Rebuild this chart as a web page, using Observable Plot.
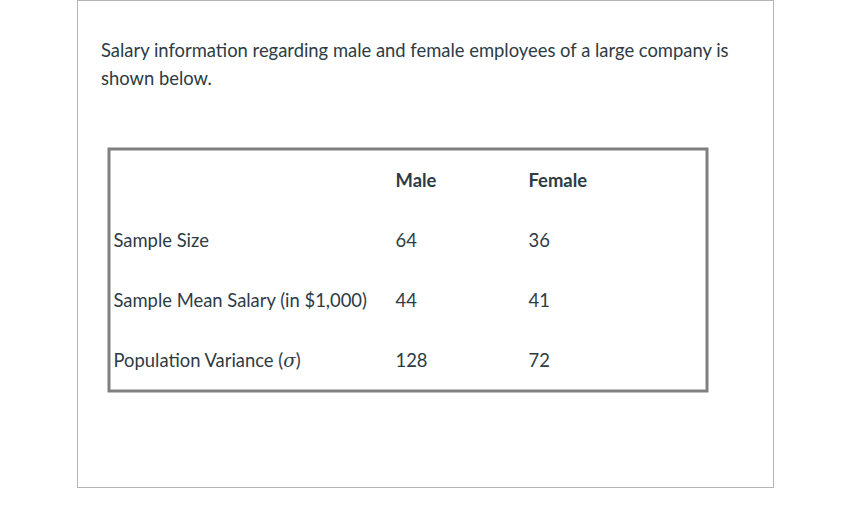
<!DOCTYPE html>
<html>
<head>
<meta charset="utf-8">
<script src="https://cdn.jsdelivr.net/npm/d3@7"></script>
<script src="https://cdn.jsdelivr.net/npm/@observablehq/plot@0.6"></script>
<style>
  html, body { margin: 0; padding: 0; background: #fff; }
  body { width: 864px; height: 517px; position: relative; overflow: hidden; font-family: Lato, "Open Sans", sans-serif; color: #2d3b45; }
  #box { position: absolute; left: 77px; top: 0; width: 695px; height: 486px; border: 1px solid #b4b4b4; box-sizing: content-box; }
  #title { position: absolute; left: 101px; top: 36px; width: 648px; font-size: 18.4px; line-height: 28px; margin: 0; }
  #table { position: absolute; left: 107px; top: 147px; }
</style>
</head>
<body>
<div id="box"></div>
<p id="title">Salary information regarding male and female employees of a large company is shown below.</p>
<div id="table"></div>
<script>
const columns = ["Male", "Female"];
const rowLabels = ["Sample Size", "Sample Mean Salary (in $1,000)", "Population Variance (σ)"];
const male = [64, 44, 128];
const female = [36, 41, 72];
const headerKey = "header";

const cells = rowLabels.flatMap((r, i) => [
  {row: r, col: "Male", value: male[i]},
  {row: r, col: "Female", value: female[i]}
]);

const fontFamily = "Lato, 'Open Sans', sans-serif";
const textColor = "#2d3b45";
const fs = 18.4;

const chart = Plot.plot({
  width: 601,
  height: 245,
  margin: 0,
  style: {background: "transparent", fontFamily, overflow: "visible"},
  x: {type: "point", domain: columns, range: [288, 421], padding: 0, axis: null},
  y: {type: "point", domain: [headerKey, ...rowLabels], range: [34, 214], padding: 0, axis: null},
  marks: [
    Plot.frame({stroke: "#808080", strokeWidth: 3, inset: 1.5}),
    Plot.text(columns, {x: d => d, y: () => headerKey, text: d => d, textAnchor: "start", fontSize: fs, fontWeight: "bold", fill: textColor}),
    Plot.text(rowLabels, {y: d => d, text: d => d, frameAnchor: "left", dx: 6, textAnchor: "start", fontSize: fs, fill: textColor}),
    Plot.text(cells, {x: "col", y: "row", text: d => String(d.value), textAnchor: "start", fontSize: fs, fill: textColor})
  ]
});

// italicise the sigma symbol
chart.querySelectorAll("text").forEach(t => {
  const s = t.textContent;
  if (s.includes("σ") && t.children.length === 0) {
    const i = s.indexOf("σ");
    t.textContent = "";
    const a = document.createElementNS("http://www.w3.org/2000/svg", "tspan");
    a.textContent = s.slice(0, i);
    const b = document.createElementNS("http://www.w3.org/2000/svg", "tspan");
    b.textContent = "σ";
    b.setAttribute("font-style", "italic");
    b.setAttribute("font-family", "'DejaVu Serif', serif");
    const c = document.createElementNS("http://www.w3.org/2000/svg", "tspan");
    c.textContent = s.slice(i + 1);
    t.append(a, b, c);
  }
});

document.getElementById("table").appendChild(chart);
</script>
</body>
</html>
